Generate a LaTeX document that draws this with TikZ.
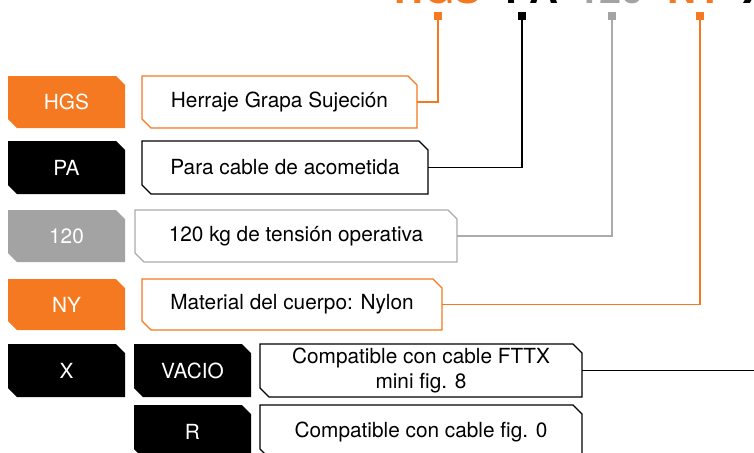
\documentclass[tikz,border=0pt]{standalone}
\usepackage{fontspec}
\setmainfont{TeX Gyre Heros}
\usetikzlibrary{backgrounds}
\definecolor{orng}{HTML}{F47920}
\definecolor{gryf}{HTML}{A3A3A3}
\definecolor{gryl}{HTML}{ABABAB}
\newcommand\chb[7]{%
  \node[txt, minimum width=#3, minimum height=#4, #6] (#1) at (#2) {#7};
  \begin{pgfonlayer}{background}
    \path[#5] (#1.north west) -- ([xshift=-9pt]#1.north east) -- ([yshift=-9pt]#1.north east)
      -- (#1.south east) -- ([xshift=9pt]#1.south west) -- ([yshift=9pt]#1.south west) -- cycle;
  \end{pgfonlayer}}
\begin{document}
\begin{tikzpicture}[x=1pt,y=-1pt,
  txt/.style={inner sep=0pt, outer sep=0pt, draw=none, align=center,
    font=\fontsize{20.8}{25}\selectfont},
  codebox/.style={fill=#1},
  descbox/.style={draw=#1, fill=white, line width=1.3pt},
  conn/.style={draw=#1, line width=1.3pt},
  marker/.style={fill=#1, inner sep=0pt, minimum size=8pt, outer sep=0pt},
  ttl/.style={anchor=base west, inner sep=0pt, text=#1,
    font=\fontsize{40}{44}\selectfont\bfseries}]
\useasboundingbox (0,0) rectangle (754,452);
\clip (0,0) rectangle (754,452);
% title (cropped at top)
\node[ttl=orng] (tHGS) at (394,3.5) {HGS};
\node[ttl=black] (tPA) at (505,3.5) {PA};
\node[ttl=gryf] (t120) at (577,3.5) {120};
\node[ttl=orng] (tNY) at (667,3.5) {NY};
\node[ttl=black] (tX) at (742,3.5) {X};
% markers
\node[marker=orng] (mHGS) at (438,16) {};
\node[marker=black] (mPA) at (522,16) {};
\node[marker=gryf] (m120) at (612,16) {};
\node[marker=orng] (mNY) at (700,16) {};
% code boxes
\chb{cHGS}{66.5,102}{117pt}{52pt}{codebox=orng}{text=white}{HGS}
\chb{cPA}{66.5,167.5}{117pt}{53pt}{codebox=black}{text=white}{PA}
\chb{c120}{66.5,236}{117pt}{52pt}{codebox=gryf}{text=white}{120}
\chb{cNY}{66.5,304.5}{117pt}{51pt}{codebox=orng}{text=white}{NY}
\chb{cX}{66.5,370.5}{117pt}{53pt}{codebox=black}{text=white}{X}
\chb{cVAC}{192.5,370.5}{117pt}{53pt}{codebox=black}{text=white}{VACIO}
\chb{cR}{192.5,431.5}{117pt}{53pt}{codebox=black}{text=white}{R}
% description boxes
\chb{dHGS}{279.5,102}{275pt}{52pt}{descbox=orng}{text=black}{Herraje Grapa Sujeción}
\chb{dPA}{285,167.5}{286pt}{53pt}{descbox=black}{text=black}{Para cable de acometida}
\chb{d120}{296,236}{322pt}{52pt}{descbox=gryl}{text=black}{120 kg de tensión operativa}
\chb{dNY}{292,304.5}{300pt}{51pt}{descbox=orng}{text=black}{Material del cuerpo: Nylon}
\chb{dVAC}{421,370.5}{322pt}{53pt}{descbox=black}{text=black}{Compatible con cable FTTX\\mini fig. 8}
\chb{dR}{421,431.5}{322pt}{53pt}{descbox=black}{text=black}{Compatible con cable fig. 0}
% connectors
\draw[conn=orng] (dHGS.east) -| (mHGS.south);
\draw[conn=black] (dPA.east) -| (mPA.south);
\draw[conn=gryl] (d120.east) -| (m120.south);
\draw[conn=orng] (dNY.east) -| (mNY.south);
\coordinate (xend) at (760,370.5);
\draw[conn=black] (dVAC.east) -- (xend);
\end{tikzpicture}
\end{document}
